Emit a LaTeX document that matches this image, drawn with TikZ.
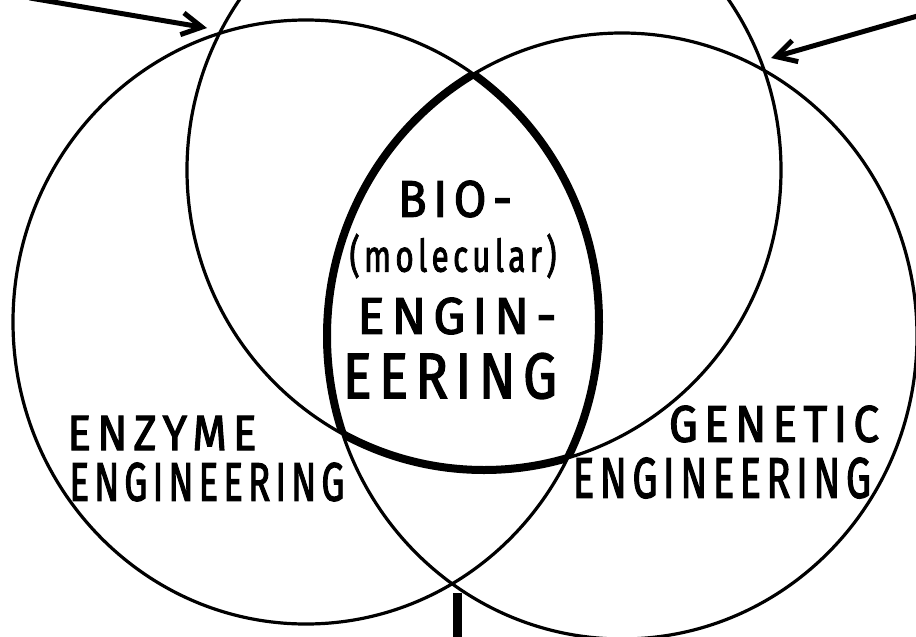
\documentclass[tikz,border=0pt]{standalone}
\usepackage{fontspec}
\usepackage{graphicx}
\setmainfont{Fira Sans}
\newfontfamily\handfont[LetterSpace=14,FakeBold=2.5]{Fira Sans}
\usetikzlibrary{arrows.meta}
\newcommand\fitlab[3]{\resizebox{#1pt}{#2pt}{#3}}
\newcommand\fitlabt[3]{\resizebox*{#1pt}{#2pt}{#3}}
\begin{document}
\begin{tikzpicture}[x=1pt,y=-1pt,
  thincirc/.style={line width=3.2pt},
  lensline/.style={line width=8pt},
  pointer/.style={line width=5pt, line cap=round, -{Straight Barb[length=20pt,width=22pt,line width=5pt]}},
  stem/.style={line width=9pt},
  lab/.style={inner sep=0pt, font=\handfont\mdseries}]
\useasboundingbox (0,0) rectangle (916,637);
\fill[white] (0,0) rectangle (916,637);
\clip (0,0) rectangle (916,637);
% centres of the three circles
\coordinate (cL) at (306,322);
\coordinate (cR) at (622,336);
\coordinate (cT) at (484,170);
% thin circles
\draw[thincirc] (cL) ellipse[x radius=293pt, y radius=302pt];
\draw[thincirc] (cR) ellipse[x radius=295pt, y radius=303pt];
\draw[thincirc] (cT) ellipse[x radius=297pt, y radius=300pt];
% thick boundary of the triple overlap
\begin{scope}
  \clip (cL) ellipse[x radius=293pt, y radius=302pt];
  \clip (cR) ellipse[x radius=295pt, y radius=303pt];
  \draw[lensline] (cT) ellipse[x radius=297pt, y radius=300pt];
\end{scope}
\begin{scope}
  \clip (cL) ellipse[x radius=293pt, y radius=302pt];
  \clip (cT) ellipse[x radius=297pt, y radius=300pt];
  \draw[lensline] (cR) ellipse[x radius=295pt, y radius=303pt];
\end{scope}
\begin{scope}
  \clip (cR) ellipse[x radius=295pt, y radius=303pt];
  \clip (cT) ellipse[x radius=297pt, y radius=300pt];
  \draw[lensline] (cL) ellipse[x radius=293pt, y radius=302pt];
\end{scope}
% labels
\node[lab] (bio) at (455,199) {\fitlab{114}{36}{BIO-}};
\node[lab] (mol) at (453,256) {\fitlabt{207}{44}{(molecular)}};
\node[lab] (engin) at (457,316) {\fitlab{199}{36}{ENGIN-}};
\node[lab] (eering) at (450,376) {\fitlab{214}{45}{EERING}};
\node[lab] (enz) at (162,433) {\fitlab{189}{34}{ENZYME}};
\node[lab] (engL) at (207,482) {\fitlab{275}{38}{ENGINEERING}};
\node[lab] (gen) at (774,424) {\fitlab{210}{36}{GENETIC}};
\node[lab] (engR) at (722,478) {\fitlab{298}{40}{ENGINEERING}};
% arrows
\coordinate (a1s) at (30,-2);
\coordinate (a1e) at (207,28);
\draw[pointer] (a1s) -- (a1e);
\coordinate (a2s) at (935,11);
\coordinate (a2e) at (771,58);
\draw[pointer] (a2s) -- (a2e);
\coordinate (b1) at (457,593);
\coordinate (b2) at (457,645);
\draw[stem] (b1) -- (b2);
\end{tikzpicture}
\end{document}
